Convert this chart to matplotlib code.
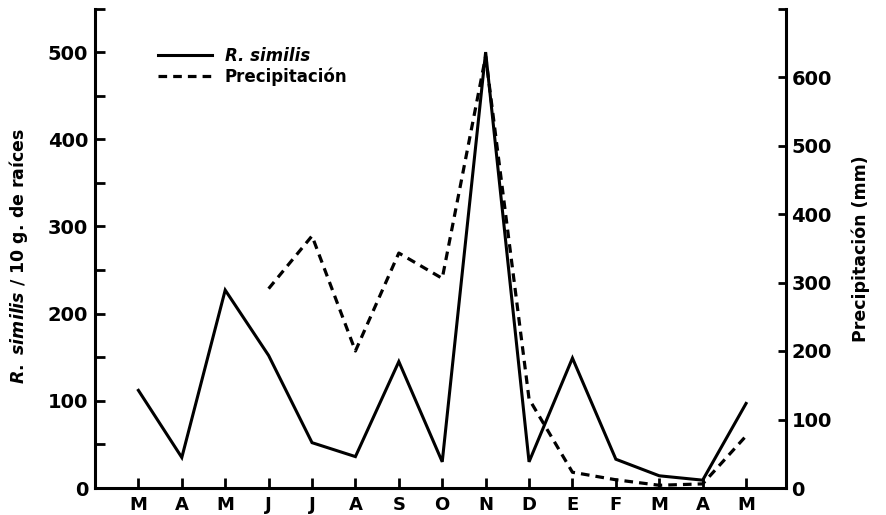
import numpy as np
import matplotlib
matplotlib.use("Agg")
import matplotlib.pyplot as plt

plt.rcParams['font.family'] = ['DejaVu Sans']
plt.rcParams['font.weight'] = 'bold'
plt.rcParams['mathtext.fontset'] = 'custom'
plt.rcParams['mathtext.it'] = 'DejaVu Sans:italic:bold'
plt.rcParams['mathtext.rm'] = 'DejaVu Sans:bold'

months = ['M', 'A', 'M', 'J', 'J', 'A', 'S', 'O', 'N', 'D', 'E', 'F', 'M', 'A', 'M']
similis = [112, 35, 227, 152, 52, 36, 145, 30, 500, 30, 149, 33, 14, 9, 97]
# precipitation starts in June
precip_months = [3, 4, 5, 6, 7, 8, 9, 10, 11, 12, 13, 14]
precip = [291, 368, 200, 343, 306, 630, 130, 23, 12, 4, 6, 76]

x = np.arange(len(months))

fig = plt.figure(figsize=(8.87, 5.15), dpi=100)
ax = fig.add_axes([95/887, 27/515, (786-95)/887, (488-8.5)/515])
ax2 = ax.twinx()

l1, = ax.plot(x, similis, color='black', lw=2.2, solid_joinstyle='miter')
l2, = ax2.plot(precip_months, precip, color='black', lw=2.3, dashes=(2.7, 1.9))

ax.set_xlim(-1, 14.92)
ax.set_ylim(0, 550)
ax2.set_ylim(0, 700)

ax.set_xticks(x)
ax.set_xticklabels(months)
ax.set_yticks(np.arange(0, 551, 50))
ax.set_yticklabels([str(v) if v % 100 == 0 and v <= 500 else '' for v in range(0, 551, 50)])
ax2.set_yticks(np.arange(0, 701, 100))
ax2.set_yticklabels([str(v) if v <= 600 else '' for v in range(0, 701, 100)])

for a in (ax, ax2):
    a.spines['top'].set_visible(False)
    for s in a.spines.values():
        s.set_linewidth(2.2)
ax.spines['right'].set_visible(False)
ax2.spines['left'].set_visible(False)
ax2.spines['bottom'].set_visible(False)

ax.tick_params(axis='both', direction='in', length=7, width=2.0, labelsize=14, pad=5)
ax.tick_params(axis='x', labelsize=13, pad=6)
ax2.tick_params(axis='y', direction='in', length=6, width=2.0, labelsize=14, pad=4)

ax.set_ylabel(r'$\mathit{R.}$ $\mathit{similis}$ / 10 g. de raíces', fontsize=12.5,
              fontweight='bold')
ax.yaxis.set_label_coords(-0.094, 0.485)
ax2.set_ylabel('Precipitación (mm)', fontsize=12.5, fontweight='bold', labelpad=14)

leg = ax.legend([l1, l2], ['R. similis', 'Precipitación'], loc='upper left',
                bbox_to_anchor=(150/887, 1 - 39/515), bbox_transform=fig.transFigure,
                frameon=False, fontsize=12, handlelength=3.2, handletextpad=0.8,
                labelspacing=0.15, borderpad=0)
leg.get_texts()[0].set_style('italic')

fig.savefig('out.png', dpi=100)
